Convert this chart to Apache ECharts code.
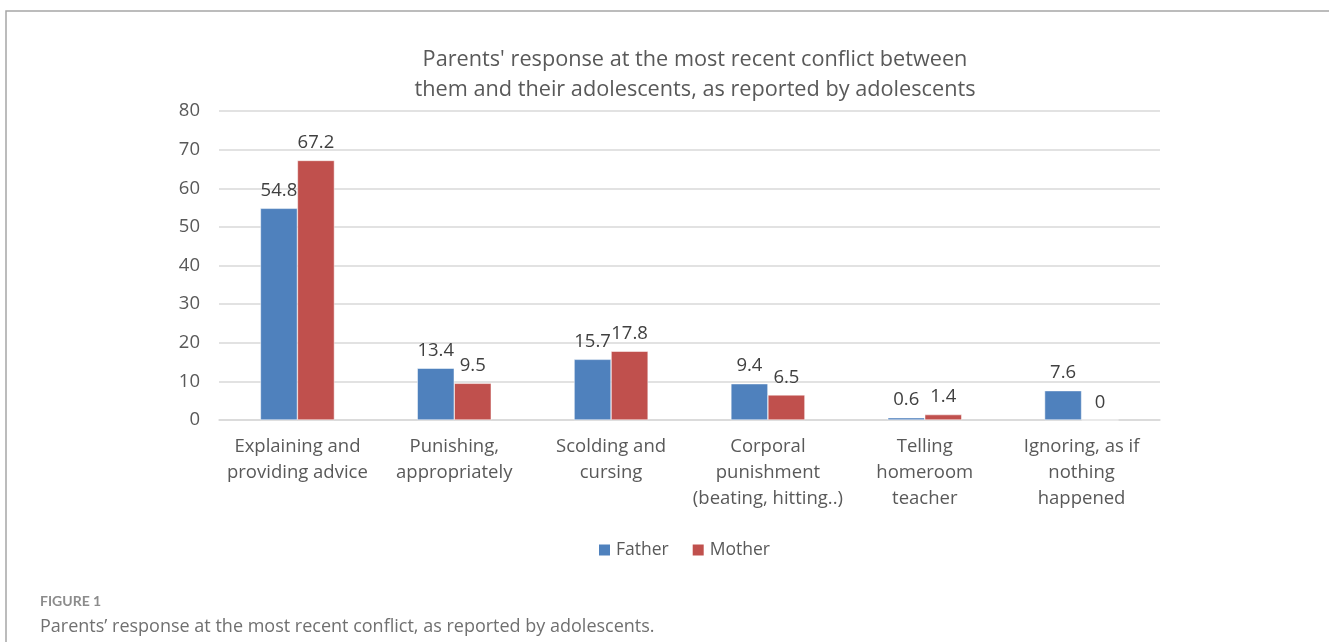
<!DOCTYPE html>
<html>
<head>
<meta charset="utf-8">
<script src="https://cdn.jsdelivr.net/npm/echarts@6/dist/echarts.min.js"></script>
<style>
html,body{margin:0;padding:0;background:#fff;}
#chart{width:1329px;height:642px;}
</style>
</head>
<body>
<div id="chart"></div>
<script>
var categories = [
	'Explaining and\nproviding advice',
	'Punishing,\nappropriately',
	'Scolding and\ncursing',
	'Corporal\npunishment\n(beating, hitting..)',
	'Telling\nhomeroom\nteacher',
	'Ignoring, as if\nnothing\nhappened'
];
var fatherData = [54.8, 13.4, 15.7, 9.4, 0.6, 7.6];
var motherData = [67.2, 9.5, 17.8, 6.5, 1.4, 0];
var yTicks = [0, 10, 20, 30, 40, 50, 60, 70, 80];

var font = '"Open Sans", Lato, sans-serif';
var chart = echarts.init(document.getElementById('chart'));
var option = {
	backgroundColor: '#fff',
	color: ['#4F81BD', '#C0504D'],
	textStyle: {fontFamily: font},
	title: {
		text: "Parents' response at the most recent conflict between\nthem and their adolescents, as reported by adolescents",
		left: 690,
		textAlign: 'center',
		top: 40,
		textStyle: {fontSize: 21.7, fontWeight: 'normal', color: '#595959', lineHeight: 30, fontFamily: font}
	},
	legend: {
		data: ['Father', 'Mother'],
		left: 592,
		top: 536,
		itemWidth: 13,
		itemHeight: 13,
		itemGap: 22,
		icon: 'rect',
		textStyle: {fontSize: 17.5, color: '#595959', fontFamily: font}
	},
	grid: {left: 219, right: 169, top: 111, bottom: 222},
	xAxis: {
		type: 'category',
		data: categories,
		axisLine: {lineStyle: {color: '#D9D9D9', width: 1.5}},
		axisTick: {show: false},
		axisLabel: {fontSize: 18.5, color: '#595959', lineHeight: 26, margin: 14, interval: 0, fontFamily: font}
	},
	yAxis: {
		type: 'value',
		min: yTicks[0],
		max: yTicks[yTicks.length - 1],
		interval: 10,
		axisLine: {show: false},
		axisTick: {show: false},
		splitLine: {lineStyle: {color: '#D9D9D9', width: 1.5}},
		axisLabel: {fontSize: 18.5, color: '#595959', margin: 19, fontFamily: font}
	},
	series: [
		{
			name: 'Father',
			type: 'bar',
			barWidth: 37,
			barGap: '0%',
			data: fatherData,
			itemStyle: {borderColor: '#fff', borderWidth: 0.5},
			label: {show: true, position: 'top', distance: 8, fontSize: 18.5, color: '#404040', fontFamily: font}
		},
		{
			name: 'Mother',
			type: 'bar',
			barWidth: 37,
			barGap: '0%',
			data: motherData,
			itemStyle: {borderColor: '#fff', borderWidth: 0.5},
			label: {show: true, position: 'top', distance: 8, fontSize: 18.5, color: '#404040', fontFamily: font}
		}
	],
	graphic: [
		{type: 'polyline', shape: {points: [[6, 642], [6, 11], [1329, 11]]}, style: {stroke: '#A6A6A6', lineWidth: 1.5, fill: null}},
		{type: 'text', left: 40, top: 594, style: {text: 'FIGURE 1', fontSize: 14, fontWeight: 'bold', fill: '#8C8C8C', fontFamily: 'Lato, sans-serif'}},
		{type: 'text', left: 40, top: 618, style: {text: 'Parents\u2019 response at the most recent conflict, as reported by adolescents.', fontSize: 18, fill: '#707070', fontFamily: font}}
	]
};
chart.setOption(option);
</script>
</body>
</html>
